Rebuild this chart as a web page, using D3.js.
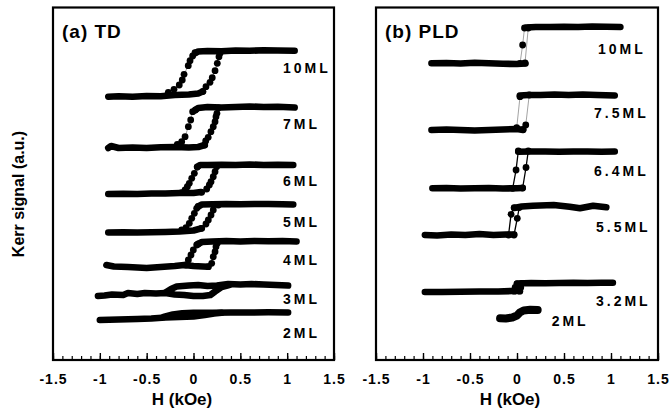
<!DOCTYPE html>
<html>
<head>
<meta charset="utf-8">
<script src="https://cdn.jsdelivr.net/npm/d3@7"></script>
<style>
  body { margin: 0; background: #fff; }
  svg { display: block; font-family: "Liberation Sans", Arial, Helvetica, sans-serif; font-weight: bold; }
</style>
</head>
<body>
<div id="chart"></div>
<script>
// values: H in kOe, Kerr signal in a.u. (offset per film)

// ---- (a) TD ----
var tdLabels = ["10ML", "7ML", "6ML", "5ML", "4ML", "3ML", "2ML"];

// saturated / slow parts of the loops (dense measurement points)
var tdLow = [
  [[-0.91,26.33],[-0.8,26.38],[-0.65,26.32],[-0.5,26.4],[-0.35,26.38],[-0.2,26.5],[-0.05,26.55],[0.05,26.65],[0.1,26.85]],
  [[-0.91,21.2],[-0.88,21.4],[-0.8,21.2],[-0.65,21.25],[-0.5,21.2],[-0.35,21.28],[-0.2,21.3],[-0.05,21.25],[0.05,21.3],[0.12,21.5]],
  [[-0.91,16.6],[-0.75,16.62],[-0.6,16.6],[-0.45,16.65],[-0.3,16.65],[-0.15,16.7],[0.0,16.7],[0.08,16.8]],
  [[-0.91,12.75],[-0.75,12.78],[-0.6,12.75],[-0.45,12.78],[-0.3,12.8],[-0.15,12.85],[0.0,12.95],[0.087,13.17]],
  [[-0.93,9.5],[-0.85,9.35],[-0.7,9.3],[-0.5,9.2],[-0.35,9.3],[-0.2,9.4],[-0.1,9.5],[0.0,9.4],[0.1,9.35],[0.158,9.33]],
  [[-1.02,6.4],[-0.95,6.45],[-0.87,6.55],[-0.75,6.5],[-0.7,6.7],[-0.6,6.6],[-0.52,6.7],[-0.4,6.65],[-0.3,6.7],[-0.2,6.55],[-0.1,6.5],[0.0,6.4],[0.1,6.4],[0.18,6.5],[0.23,6.85],[0.3,7.3],[0.38,7.5]],
  [[-1.0,4.0],[-0.8,4.05],[-0.6,4.1],[-0.45,4.15],[-0.3,4.25],[-0.15,4.3],[0.0,4.35],[0.12,4.5],[0.22,4.65],[0.3,4.72]]
];
var tdHigh = [
  [[0.02,30.7],[0.05,30.85],[0.15,30.9],[0.3,30.88],[0.45,30.95],[0.6,30.92],[0.75,30.98],[0.9,30.95],[1.08,30.93]],
  [[0.02,25.0],[0.05,25.2],[0.15,25.3],[0.3,25.25],[0.45,25.3],[0.6,25.35],[0.75,25.3],[0.9,25.33],[1.08,25.25]],
  [[0.04,19.3],[0.07,19.5],[0.15,19.5],[0.3,19.52],[0.45,19.5],[0.6,19.55],[0.75,19.5],[0.9,19.52],[1.065,19.5]],
  [[0.05,15.35],[0.09,15.55],[0.2,15.58],[0.35,15.6],[0.5,15.58],[0.65,15.6],[0.8,15.6],[0.95,15.58],[1.065,15.55]],
  [[0.05,11.6],[0.09,11.8],[0.2,11.85],[0.35,11.9],[0.5,11.85],[0.65,11.9],[0.8,11.88],[0.95,11.9],[1.1,11.85]],
  [[-0.3,6.75],[-0.24,7.1],[-0.18,7.35],[-0.05,7.45],[0.05,7.5],[0.15,7.4],[0.25,7.45],[0.37,7.6],[0.5,7.55],[0.62,7.6],[0.75,7.55],[0.88,7.5],[1.01,7.45]],
  [[-0.32,4.3],[-0.22,4.55],[-0.12,4.68],[0.0,4.72],[0.2,4.73],[0.4,4.75],[0.6,4.75],[0.8,4.77],[1.01,4.75]]
];
// switching points, field sweeping down / up
var tdDown = [
  [[0.016,30.73],[-0.009,30.4],[-0.037,29.93],[-0.056,29.43],[-0.101,28.57],[-0.12,28.0],[-0.152,27.5],[-0.208,27.07],[-0.269,26.77]],
  [[0.02,25.0],[-0.009,24.83],[-0.03,24.0],[-0.055,23.33],[-0.09,22.33],[-0.126,21.83],[-0.173,21.57]],
  [[0.04,19.3],[0.009,18.67],[-0.019,18.17],[-0.045,17.67],[-0.066,17.33],[-0.09,17.0],[-0.126,16.73]],
  [[0.05,15.35],[0.034,15.17],[0.009,14.67],[-0.019,14.17],[-0.045,13.67],[-0.08,13.23],[-0.126,13.0]],
  [[0.05,11.6],[0.034,11.5],[-0.002,11.0],[-0.027,10.5],[-0.055,10.0],[-0.08,9.5]],
  [],
  []
];
var tdUp = [
  [[0.1,26.85],[0.133,27.33],[0.176,27.77],[0.2,28.23],[0.23,28.93],[0.254,29.67],[0.272,30.33],[0.283,30.67]],
  [[0.12,21.5],[0.13,21.9],[0.157,22.27],[0.186,22.83],[0.211,23.33],[0.23,23.83],[0.24,24.33],[0.25,24.67],[0.265,25.2]],
  [[0.087,16.77],[0.141,17.1],[0.169,17.5],[0.187,17.83],[0.211,18.33],[0.23,18.83],[0.247,19.33]],
  [[0.087,13.17],[0.133,13.6],[0.158,14.0],[0.187,14.5],[0.211,15.0],[0.265,15.5]],
  [[0.158,9.33],[0.194,9.67],[0.211,10.33],[0.23,10.83],[0.24,11.33],[0.254,11.67]],
  [],
  []
];

// ---- (b) PLD ----
var pldLabels = ["10ML", "7.5ML", "6.4ML", "5.5ML", "3.2ML", "2ML"];

var pldLow = [
  [[-0.91,29.67],[-0.75,29.7],[-0.6,29.65],[-0.45,29.72],[-0.3,29.68],[-0.15,29.62],[0.0,29.6],[0.09,29.65]],
  [[-0.91,23.0],[-0.75,23.05],[-0.6,23.0],[-0.45,22.95],[-0.3,23.0],[-0.15,23.05],[0.0,23.1],[0.065,23.0]],
  [[-0.9,17.17],[-0.75,17.2],[-0.6,17.15],[-0.45,17.18],[-0.3,17.2],[-0.15,17.15],[0.0,17.18],[0.06,17.2]],
  [[-0.98,12.5],[-0.85,12.45],[-0.7,12.55],[-0.55,12.5],[-0.4,12.6],[-0.25,12.5],[-0.12,12.55],[-0.03,12.55]],
  [[-0.98,6.8],[-0.8,6.8],[-0.6,6.82],[-0.4,6.85],[-0.2,6.85],[-0.05,6.9],[0.03,6.9]],
  [[-0.18,4.17],[-0.12,4.15],[-0.05,4.25],[0.0,4.45],[0.03,4.75],[0.07,4.95],[0.14,5.02],[0.22,5.0]]
];
var pldHigh = [
  [[0.1,33.25],[0.2,33.3],[0.35,33.3],[0.5,33.33],[0.65,33.3],[0.8,33.35],[0.95,33.33],[1.1,33.3]],
  [[0.03,26.45],[0.12,26.5],[0.25,26.5],[0.4,26.55],[0.55,26.5],[0.7,26.55],[0.85,26.5],[1.04,26.45]],
  [[0.014,20.83],[0.15,20.85],[0.3,20.85],[0.45,20.83],[0.6,20.85],[0.75,20.85],[0.9,20.83],[1.04,20.85]],
  [[-0.03,15.2],[0.05,15.35],[0.17,15.43],[0.39,15.5],[0.56,15.33],[0.67,15.17],[0.81,15.43],[0.95,15.27]],
  [[0.0,7.65],[0.15,7.7],[0.3,7.68],[0.45,7.7],[0.6,7.72],[0.75,7.7],[0.9,7.72],[1.02,7.72]],
  []
];
var pldDown = [
  [[0.08,33.2],[0.06,31.5],[0.032,29.65]],
  [[0.032,26.33],[-0.003,23.23]],
  [[0.014,20.9],[-0.01,19.0],[-0.046,17.17]],
  [[-0.03,15.23],[-0.063,14.57],[-0.09,12.5]],
  [[0.0,7.62],[-0.02,7.25],[-0.03,6.88]],
  []
];
var pldUp = [
  [[0.085,29.7],[0.12,33.2]],
  [[0.065,23.05],[0.093,23.5],[0.13,26.5]],
  [[0.06,17.2],[0.096,19.25],[0.12,20.9]],
  [[-0.032,12.5],[0.003,14.17],[0.024,15.25]],
  [[0.03,6.88],[0.04,7.25],[0.05,7.65]],
  []
];

var hMajor = [-1.5, -1, -0.5, 0, 0.5, 1, 1.5];

// ---- layout ----
var width = 671, height = 413;
var frameTop = 7.5, frameBottom = 360;

var svg = d3.select("#chart").append("svg")
    .attr("width", width)
    .attr("height", height);

var ySig = d3.scaleLinear().domain([0, 35.25]).range([frameBottom, frameTop]);

function drawPanel(p) {
    var x = d3.scaleLinear().domain([-1.5, 1.5]).range([p.left, p.right]);
    var line = d3.line().x(function (d) { return x(d[0]); }).y(function (d) { return ySig(d[1]); });
    var g = svg.append("g");

    // ticks (inward) on the bottom edge
    var minor = d3.range(-15, 16).map(function (d) { return d / 10; });
    g.append("g")
        .attr("transform", "translate(0," + frameBottom + ")")
        .call(d3.axisBottom(x).tickValues(minor).tickSize(-4).tickFormat(""))
        .call(function (a) { a.select(".domain").remove(); a.selectAll("line").attr("stroke-width", 1.2); });
    var ax = g.append("g")
        .attr("transform", "translate(0," + frameBottom + ")")
        .call(d3.axisBottom(x).tickValues(hMajor).tickSize(-7).tickFormat(function (d) { return String(d); }));
    ax.select(".domain").remove();
    ax.selectAll("line").attr("stroke-width", 1.4);
    ax.selectAll("text")
        .attr("y", 24).attr("dy", 0)
        .style("font-family", "'Liberation Sans', Arial, sans-serif")
        .style("font-weight", "bold")
        .style("font-size", "14px")
        .style("letter-spacing", "1px")
        .attr("fill", "#000");

    g.append("rect")
        .attr("x", p.left).attr("y", frameTop)
        .attr("width", p.right - p.left).attr("height", frameBottom - frameTop)
        .attr("fill", "none").attr("stroke", "#000").attr("stroke-width", 2.2);

    p.labels.forEach(function (name, i) {
        var dark = p.darkLinks[i];
        [p.down[i], p.up[i]].forEach(function (pts) {
            if (!pts.length) return;
            g.append("path").attr("d", line(pts))
                .attr("fill", "none")
                .attr("stroke", dark ? "#000" : "#8c8c8c")
                .attr("stroke-width", dark ? 1.3 : 0.8);
        });
        [p.low[i], p.high[i]].forEach(function (pts) {
            if (!pts.length) return;
            g.append("path").attr("d", line(pts))
                .attr("fill", "none")
                .attr("stroke", "#000")
                .attr("stroke-width", p.traceWidth[i])
                .attr("stroke-linecap", "round")
                .attr("stroke-linejoin", "round");
        });
        g.selectAll(null)
            .data(p.down[i].concat(p.up[i]))
            .enter().append("circle")
            .attr("cx", function (d) { return x(d[0]); })
            .attr("cy", function (d) { return ySig(d[1]); })
            .attr("r", 3.4)
            .attr("fill", "#000");
        g.append("text")
            .attr("x", x(p.labelAt[i][0]))
            .attr("y", ySig(p.labelAt[i][1]))
            .attr("font-size", 14)
            .style("letter-spacing", "3px")
            .text(name);
    });

    g.append("text")
        .attr("x", p.titleX).attr("y", 38)
        .attr("font-size", 19)
        .style("letter-spacing", "1px")
        .text(p.title);

    g.append("text")
        .attr("x", p.axisLabelX).attr("y", 405)
        .attr("text-anchor", "middle")
        .attr("font-size", 17)
        .text("H (kOe)");
}

drawPanel({
    left: 53, right: 334, title: "(a) TD", titleX: 62, axisLabelX: 182,
    labels: tdLabels, low: tdLow, high: tdHigh, down: tdDown, up: tdUp,
    darkLinks: [false, false, false, false, false, false, false],
    traceWidth: [6.6, 6.6, 6.6, 6.6, 6.6, 6.6, 6.6],
    labelAt: [[0.955,28.73],[0.955,23.07],[0.955,17.4],[0.955,13.33],[0.955,9.5],[0.955,5.57],[0.955,2.23]]
});

drawPanel({
    left: 376, right: 658, title: "(b) PLD", titleX: 385, axisLabelX: 510,
    labels: pldLabels, low: pldLow, high: pldHigh, down: pldDown, up: pldUp,
    darkLinks: [false, false, true, true, false, false],
    traceWidth: [6.6, 6.6, 6.6, 6.6, 6.6, 8],
    labelAt: [[0.862,30.6],[0.82,24.17],[0.82,18.43],[0.84,12.77],[0.84,5.4],[0.369,3.4]]
});

svg.append("text")
    .attr("transform", "translate(24,194) rotate(-90)")
    .attr("text-anchor", "middle")
    .attr("font-size", 16)
    .text("Kerr signal (a.u.)");
</script>
</body>
</html>
